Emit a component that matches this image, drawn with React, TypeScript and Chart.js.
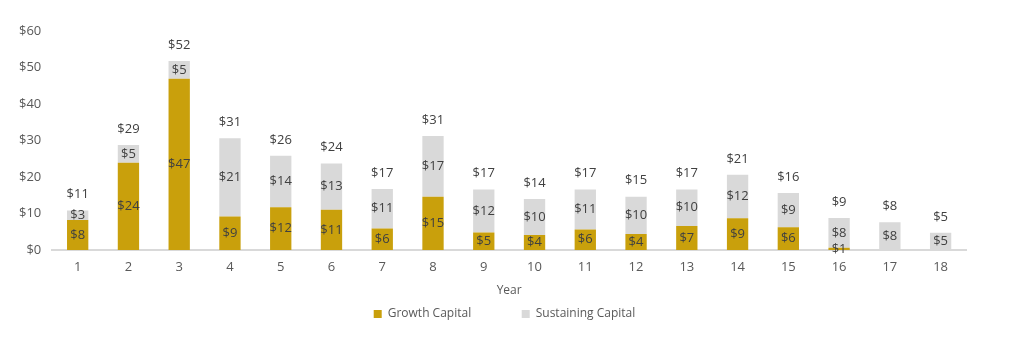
import React, { useEffect, useRef } from "react";
import { Chart, registerables } from "chart.js";

Chart.register(...registerables);

const years = ["1","2","3","4","5","6","7","8","9","10","11","12","13","14","15","16","17","18"];
const growthCapital = [8.2, 23.9, 46.9, 9.2, 11.7, 11.0, 5.9, 14.6, 4.8, 4.1, 5.6, 4.4, 6.6, 8.7, 6.2, 0.6, 0, 0];
const sustainingCapital = [2.6, 4.9, 4.9, 21.4, 14.1, 12.7, 10.8, 16.6, 11.8, 9.9, 11.0, 10.2, 10.0, 11.9, 9.4, 8.2, 7.6, 4.7];
const yTicks = [0, 10, 20, 30, 40, 50, 60];

const FONT = "'Open Sans', 'Liberation Sans', sans-serif";
const TEXT = "#595959";
const LABEL = "#404040";

const labelPlugin = {
  id: "stackLabels",
  afterDatasetsDraw(chart: any) {
    const ctx = chart.ctx;
    ctx.save();
    ctx.font = `13px ${FONT}`;
    ctx.fillStyle = LABEL;
    ctx.textAlign = "center";
    ctx.textBaseline = "middle";
    chart.data.datasets.forEach((ds: any, di: number) => {
      const meta = chart.getDatasetMeta(di);
      meta.data.forEach((el: any, i: number) => {
        const v = ds.data[i];
        if (!v) return;
        ctx.fillText("$" + Math.round(v), el.x, (el.y + el.base) / 2);
      });
    });
    const lastMeta = chart.getDatasetMeta(chart.data.datasets.length - 1);
    lastMeta.data.forEach((el: any, i: number) => {
      const total = growthCapital[i] + sustainingCapital[i];
      ctx.fillText("$" + Math.round(total), el.x, el.y - 16);
    });
    ctx.restore();
  },
};

export default function App() {
  const ref = useRef<HTMLCanvasElement>(null);
  useEffect(() => {
    document.body.style.margin = "0";
    const chart = new Chart(ref.current!, {
      type: "bar",
      data: {
        labels: years,
        datasets: [
          {
            label: "Growth Capital",
            data: growthCapital,
            backgroundColor: "#C9A00C",
            barPercentage: 0.84,
            categoryPercentage: 0.5,
          },
          {
            label: "Sustaining Capital",
            data: sustainingCapital,
            backgroundColor: "#D9D9D9",
            barPercentage: 0.84,
            categoryPercentage: 0.5,
          },
        ],
      },
      options: {
        animation: false,
        responsive: false,
        maintainAspectRatio: false,
        layout: { padding: { left: 8, right: 21, top: 31, bottom: 15 } },
        scales: {
          x: {
            stacked: true,
            grid: { display: false, drawTicks: false },
            border: { display: true, color: "#D9D9D9", width: 2 },
            ticks: { color: TEXT, font: { family: FONT, size: 13 }, padding: 9 },
            title: { display: true, text: "Year", color: TEXT, font: { family: FONT, size: 12 }, padding: { top: 0, bottom: 0 } },
          },
          y: {
            stacked: true,
            min: 0,
            max: 60,
            afterBuildTicks: (axis: any) => {
              axis.ticks = yTicks.map((v) => ({ value: v }));
            },
            grid: { display: false, drawTicks: false },
            border: { display: false },
            ticks: {
              color: TEXT,
              font: { family: FONT, size: 13 },
              padding: 11,
              callback: (v: any) => "$" + v,
            },
          },
          spacer: {
            type: "linear",
            position: "right",
            display: true,
            grid: { display: false, drawTicks: false },
            border: { display: false },
            ticks: { display: false },
            afterFit: (axis: any) => {
              axis.width = 35;
            },
          },
        },
        plugins: {
          legend: {
            position: "bottom",
            labels: {
              color: TEXT,
              font: { family: FONT, size: 12 },
              boxWidth: 8,
              boxHeight: 8,
              padding: 10,
              generateLabels: (chart: any) =>
                Chart.defaults.plugins.legend.labels.generateLabels(chart).map((l: any, i: number) => ({
                  ...l,
                  text: i === 0 ? l.text + "             " : l.text,
                })),
            },
          },
          tooltip: { enabled: false },
        },
      },
      plugins: [labelPlugin],
    });
    return () => chart.destroy();
  }, []);
  return <canvas ref={ref} width={1022} height={345} style={{ display: "block" }} />;
}
